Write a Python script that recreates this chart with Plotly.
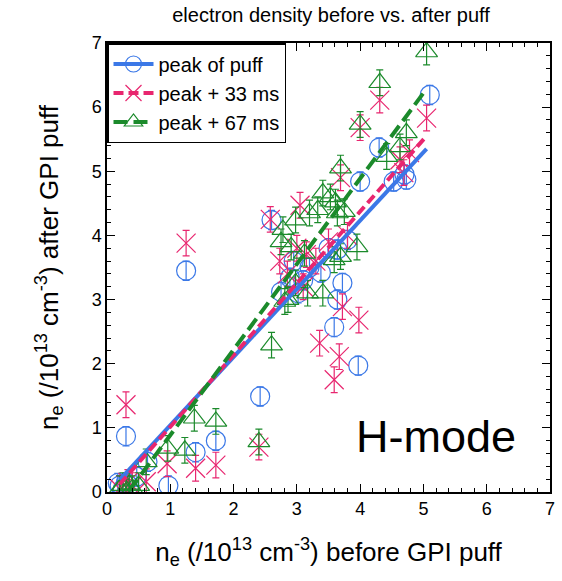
import plotly.graph_objects as go

# ---- data ----
blue_x = [0.2, 0.25, 0.3, 0.35, 0.47, 0.17, 0.3, 0.97, 1.25, 1.4, 1.72, 2.42, 2.6, 2.75, 2.89, 3.02,
          2.95, 3.1, 3.2, 3.38, 3.5, 3.64, 3.8, 3.72, 3.64, 3.59, 3.97, 4.0, 4.3, 4.53, 4.73, 4.7, 5.1, 0.64]
blue_y = [0.1, 0.05, 0.15, 0.1, 0.24, 0.14, 0.87, 0.1, 3.45, 0.62, 0.8, 1.49, 4.24, 3.12, 3.34, 3.1,
          3.6, 3.3, 3.5, 3.42, 3.8, 3.78, 3.93, 3.26, 3.0, 2.57, 1.97, 4.84, 5.37, 4.84, 4.87, 4.95, 6.19, 0.47]

pink_x = [0.2, 0.3, 0.33, 0.4, 0.62, 0.3, 0.95, 1.25, 1.4, 1.72, 2.4, 2.58, 2.73, 2.85, 3.0, 3.05,
          3.15, 3.3, 3.36, 3.5, 3.59, 3.67, 3.72, 3.98, 3.69, 4.0, 4.31, 4.63, 4.69, 4.78, 5.05, 3.1, 3.8]
pink_y = [0.05, 0.0, 0.15, 0.1, 0.16, 1.36, 0.44, 3.88, 0.37, 0.42, 0.7, 4.25, 3.6, 3.4, 3.8, 4.47,
          3.7, 3.6, 2.32, 3.9, 1.75, 2.11, 2.89, 2.68, 4.9, 5.68, 6.11, 5.18, 4.98, 5.29, 5.83, 3.2, 4.0]

green_x = [0.2, 0.25, 0.3, 0.35, 0.4, 0.5, 0.62, 0.96, 1.23, 1.38, 1.72, 2.4, 2.6, 2.78, 2.75, 2.81,
           2.86, 2.91, 2.98, 2.98, 3.12, 3.17, 3.2, 3.33, 3.41, 3.41, 3.53, 3.59, 3.61, 3.64, 3.69,
           3.69, 3.75, 3.95, 4.0, 4.31, 4.42, 4.63, 4.73, 5.05]
green_y = [0.05, 0.1, 0.0, 0.12, 0.05, 0.1, 0.47, 0.68, 0.65, 1.15, 1.1, 0.78, 2.29, 4.09, 3.9, 2.97,
           3.0, 3.82, 4.24, 3.26, 3.72, 3.1, 4.35, 4.4, 4.66, 3.1, 4.6, 3.62, 4.52, 4.35, 3.67,
           5.05, 4.37, 3.82, 5.73, 6.38, 5.23, 5.38, 5.6, 6.86]

err_blue = 0.15
err_pink = 0.2
err_green = 0.2

fit_blue_x = [0.2, 5.05]
fit_blue_y = [0.19, 5.35]
fit_pink_x = [0.2, 5.05]
fit_pink_y = [0.12, 5.55]
fit_green_x = [0.35, 5.0]
fit_green_y = [0.02, 6.22]

names = ["peak of puff", "peak + 33 ms", "peak + 67 ms"]
tick_vals = [0, 1, 2, 3, 4, 5, 6, 7]

# ---- styles ----
BLUE = "#3b78e7"
PINK = "#e8266f"
GREEN = "#1b8a2b"
FONT = "Liberation Sans, Arial, sans-serif"

fig = go.Figure()

series = [
    (blue_x, blue_y, err_blue, BLUE, "circle-open"),
    (pink_x, pink_y, err_pink, PINK, "x-thin-open"),
    (green_x, green_y, err_green, GREEN, "triangle-up-open"),
]
for (xs, ys, e, c, sym) in series:
    fig.add_trace(go.Scatter(
        x=xs, y=ys, mode="markers", showlegend=False,
        marker=dict(symbol=sym, size=19, color=c, line=dict(color=c, width=1.2)),
        error_y=dict(type="constant", value=e, color=c, thickness=1.2, width=3.5),
    ))

fits = [
    (fit_blue_x, fit_blue_y, BLUE, "solid"),
    (fit_pink_x, fit_pink_y, PINK, "10px,5px"),
    (fit_green_x, fit_green_y, GREEN, "14px,6px"),
]
for (xs, ys, c, d) in fits:
    fig.add_trace(go.Scatter(x=xs, y=ys, mode="lines", showlegend=False,
                             line=dict(color=c, width=4, dash=d)))

# legend entries
for (nm, (_, _, _, c, sym), (_, _, _, d)) in zip(names, series, fits):
    fig.add_trace(go.Scatter(
        x=[None], y=[None], mode="lines+markers", name=nm,
        marker=dict(symbol=sym, size=17, color=c, line=dict(color=c, width=1.2)),
        line=dict(color=c, width=4, dash=d),
    ))

axis_common = dict(
    range=[0, 7], tickvals=tick_vals, ticks="inside", ticklen=8, tickwidth=1,
    tickcolor="black", showline=True, linecolor="black", linewidth=1.5,
    mirror="allticks", showgrid=False, zeroline=False,
    tickfont=dict(family=FONT, size=18, color="black"),
    minor=dict(dtick=0.2, ticks="inside", ticklen=4, tickcolor="black", tickwidth=1),
)

fig.update_layout(
    width=562, height=581,
    margin=dict(l=107, r=7, t=43, b=89),
    paper_bgcolor="white", plot_bgcolor="white",
    font=dict(family=FONT, color="black"),
    title=dict(text="electron density before vs. after puff", x=0.589, xanchor="center",
               y=0.974, yanchor="middle", font=dict(family=FONT, size=20, color="black")),
    xaxis=dict(**axis_common,
               title=dict(text="n<sub>e</sub> (/10<sup>13</sup> cm<sup>-3</sup>) before GPI puff",
                          font=dict(family=FONT, size=26, color="black"), standoff=24)),
    yaxis=dict(**axis_common,
               title=dict(text="n<sub>e</sub> (/10<sup>13</sup> cm<sup>-3</sup>) after GPI puff",
                          font=dict(family=FONT, size=26, color="black"), standoff=26)),
    legend=dict(x=0, y=1, xanchor="left", yanchor="top", bgcolor="white",
                bordercolor="black", borderwidth=1.5,
                font=dict(family=FONT, size=20), tracegroupgap=0, itemwidth=40),
    annotations=[dict(text="H-mode", x=5.2, y=0.87, xref="x", yref="y", showarrow=False,
                      font=dict(family=FONT, size=45, color="black"))],
)

fig.write_html("out.html")
